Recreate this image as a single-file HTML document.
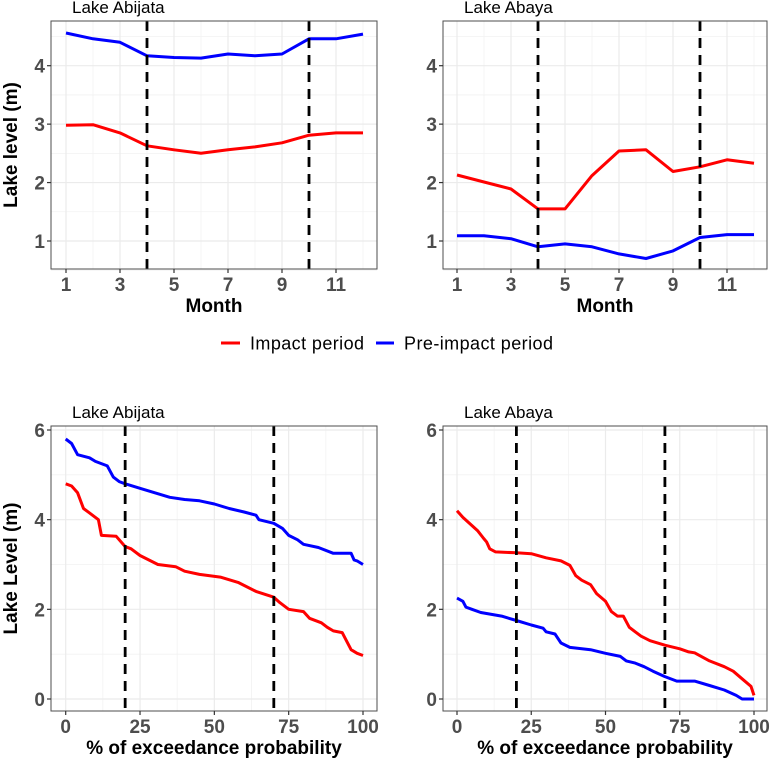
<!DOCTYPE html>
<html><head><meta charset="utf-8"><style>
html,body{margin:0;padding:0;background:#fff}
svg{display:block;font-family:"Liberation Sans",Arial,sans-serif}
</style></head><body>
<svg id="c" width="770" height="759" xmlns="http://www.w3.org/2000/svg"></svg>
<script>
const months=[1,2,3,4,5,6,7,8,9,10,11,12];
const abijataPre=[4.56,4.46,4.40,4.17,4.14,4.13,4.20,4.17,4.20,4.46,4.46,4.54];
const abijataImp=[2.98,2.99,2.85,2.63,2.56,2.50,2.56,2.61,2.68,2.81,2.85,2.85];
const abayaImp=[2.13,2.01,1.89,1.55,1.55,2.12,2.54,2.56,2.19,2.27,2.39,2.33];
const abayaPre=[1.09,1.09,1.04,0.90,0.95,0.90,0.78,0.70,0.83,1.06,1.11,1.11];
const monthTicks=[1,3,5,7,9,11];
const levelTicksTop=[1,2,3,4];
const probTicks=[0,25,50,75,100];
const levelTicksBot=[0,2,4,6];
const vlinesTop=[4,10];
const vlinesBot=[20,70];
const abiPreX=[0,2,4,8,10,14,16,18,20,25,30,35,40,45,50,55,60,64,65,70,73,75,78,80,85,90,96,97,98,100];
const abiPreY=[5.8,5.7,5.45,5.38,5.3,5.2,4.95,4.85,4.8,4.7,4.6,4.5,4.45,4.42,4.35,4.25,4.17,4.1,4.0,3.92,3.8,3.65,3.55,3.45,3.38,3.25,3.25,3.1,3.08,3.0];
const abiImpX=[0,2,4,6,8,11,12,17,20,22,25,31,37,40,45,52,58,64,70,72,75,80,82,86,88,90,93,96,98,100];
const abiImpY=[4.8,4.75,4.6,4.25,4.15,4.0,3.65,3.63,3.4,3.35,3.2,3.0,2.95,2.85,2.78,2.72,2.6,2.4,2.27,2.15,2.0,1.95,1.8,1.7,1.6,1.52,1.48,1.1,1.02,0.97];
const abaImpX=[0,2,7,9,10,11,13,20,25,30,35,38,40,42,45,47,50,52,54,56,58,60,62,65,70,75,78,80,85,90,93,96,99,100];
const abaImpY=[4.2,4.05,3.75,3.58,3.5,3.35,3.28,3.26,3.24,3.15,3.08,2.98,2.75,2.65,2.55,2.35,2.18,1.95,1.85,1.85,1.6,1.5,1.4,1.3,1.2,1.12,1.05,1.03,0.85,0.72,0.62,0.45,0.28,0.08];
const abaPreX=[0,2,3,5,8,15,20,25,29,30,33,35,38,45,50,55,57,60,63,66,70,74,80,85,90,94,96,100];
const abaPreY=[2.25,2.18,2.05,2.0,1.93,1.85,1.75,1.65,1.58,1.5,1.45,1.25,1.15,1.1,1.02,0.95,0.85,0.8,0.72,0.62,0.5,0.4,0.4,0.3,0.2,0.08,0.0,0.0];

const svg=document.getElementById('c');
const NS='http://www.w3.org/2000/svg';
function mk(tag,attrs,parent){const e=document.createElementNS(NS,tag);for(const k in attrs)e.setAttribute(k,attrs[k]);(parent||svg).appendChild(e);return e;}
function txt(s,attrs,parent){const e=mk('text',attrs,parent);e.textContent=s;return e;}

function panel(o){
  const g=mk('g',{});
  
  
  const sx=v=>o.px0+(v-o.x0)*(o.px1-o.px0)/(o.x1-o.x0);
  const sy=v=>o.py0+(v-o.y0)*(o.py1-o.py0)/(o.y1-o.y0);
  o.minorX.forEach(v=>mk('line',{x1:sx(v),x2:sx(v),y1:o.top,y2:o.bot,stroke:'#f2f2f2','stroke-width':0.8},g));
  o.minorY.forEach(v=>mk('line',{x1:o.left,x2:o.right,y1:sy(v),y2:sy(v),stroke:'#f2f2f2','stroke-width':0.8},g));
  o.xt.forEach(v=>mk('line',{x1:sx(v),x2:sx(v),y1:o.top,y2:o.bot,stroke:'#ebebeb','stroke-width':1.2},g));
  o.yt.forEach(v=>mk('line',{x1:o.left,x2:o.right,y1:sy(v),y2:sy(v),stroke:'#ebebeb','stroke-width':1.2},g));
  o.series.forEach(s=>{
    const p=s.x.map((xv,i)=>sx(xv).toFixed(1)+','+sy(s.y[i]).toFixed(1)).join(' ');
    const l=mk('polyline',{points:p,fill:'none',stroke:s.color,'stroke-width':3,'stroke-linejoin':'round'},g);
    
    
  });
  o.vl.forEach(v=>{const l=mk('line',{x1:sx(v),x2:sx(v),y1:o.top,y2:o.bot,stroke:'#000','stroke-width':2.8,'stroke-dasharray':'10,7'},g);
    
    });
  const b=mk('rect',{x:o.left,y:o.top,width:o.right-o.left,height:o.bot-o.top,fill:'none',stroke:'#4d4d4d','stroke-width':1},g);
  
  
  o.xt.forEach(v=>{mk('line',{x1:sx(v),x2:sx(v),y1:o.bot,y2:o.bot+4,stroke:'#333','stroke-width':1.2},g);
    const t=txt(String(v),{x:sx(v),y:o.bot+22,'text-anchor':'middle','font-size':19,'font-weight':'bold',fill:'#4d4d4d'},g);
    
    });
  o.yt.forEach(v=>{mk('line',{x1:o.left-4,x2:o.left,y1:sy(v),y2:sy(v),stroke:'#333','stroke-width':1.2},g);
    const t=txt(String(v),{x:o.left-6,y:sy(v)+7,'text-anchor':'end','font-size':19,'font-weight':'bold',fill:'#4d4d4d'},g);
    
    });
  const tt=txt(o.title,{x:o.left+21,y:o.top-8,'font-size':17,fill:'#000'},g);
  
  
  const xl=txt(o.xlabel,{x:(o.left+o.right)/2,y:o.bot+43,'text-anchor':'middle','font-size':19,'font-weight':'bold',fill:'#000'},g);
  
  
  if(o.ylabel){const yl=txt(o.ylabel,{x:0,y:0,transform:`translate(17,${(o.top+o.bot)/2}) rotate(-90)`,'text-anchor':'middle','font-size':19,'font-weight':'bold',fill:'#000'},g);
    
    }
}
const R='#ff0000',B='#0000ff';
const topY={py0:241,py1:65.7,y0:1,y1:4,top:21,bot:269,minorY:[0.5,1.5,2.5,3.5,4.5],yt:levelTicksTop,xt:monthTicks,minorX:[2,4,6,8,10,12],vl:vlinesTop,x0:1,x1:11,xlabel:'Month'};
panel(Object.assign({},topY,{name:'panel-abijata-monthly',left:51,right:377,px0:66,px1:336,title:'Lake Abijata',ylabel:'Lake level (m)',
  series:[{x:months,y:abijataPre,color:B,name:'abijata-pre-impact-line'},{x:months,y:abijataImp,color:R,name:'abijata-impact-line'}]}));
panel(Object.assign({},topY,{name:'panel-abaya-monthly',left:443,right:767,px0:457,px1:727,title:'Lake Abaya',ylabel:null,
  series:[{x:months,y:abayaPre,color:B,name:'abaya-pre-impact-line'},{x:months,y:abayaImp,color:R,name:'abaya-impact-line'}]}));
const botY={py0:699,py1:430,y0:0,y1:6,top:426,bot:711,minorY:[1,3,5],yt:levelTicksBot,xt:probTicks,minorX:[12.5,37.5,62.5,87.5],vl:vlinesBot,x0:0,x1:100,xlabel:'% of exceedance probability'};
panel(Object.assign({},botY,{name:'panel-abijata-exceedance',left:51,right:377,px0:65.7,px1:363,title:'Lake Abijata',ylabel:'Lake Level (m)',
  series:[{x:abiPreX,y:abiPreY,color:B,name:'abijata-pre-impact-curve'},{x:abiImpX,y:abiImpY,color:R,name:'abijata-impact-curve'}]}));
panel(Object.assign({},botY,{name:'panel-abaya-exceedance',left:443,right:767,px0:457,px1:754,title:'Lake Abaya',ylabel:null,
  series:[{x:abaPreX,y:abaPreY,color:B,name:'abaya-pre-impact-curve'},{x:abaImpX,y:abaImpY,color:R,name:'abaya-impact-curve'}]}));
const lg=mk('g',{});


mk('line',{x1:221,x2:240,y1:343,y2:343,stroke:R,'stroke-width':3},lg);
const l1=txt('Impact period',{x:250,y:349.5,'font-size':18,textLength:114,fill:'#000'},lg);


mk('line',{x1:376,x2:394,y1:343,y2:343,stroke:B,'stroke-width':3},lg);
const l2=txt('Pre-impact period',{x:404,y:349.5,'font-size':18,textLength:149,fill:'#000'},lg);


</script>
</body></html>
